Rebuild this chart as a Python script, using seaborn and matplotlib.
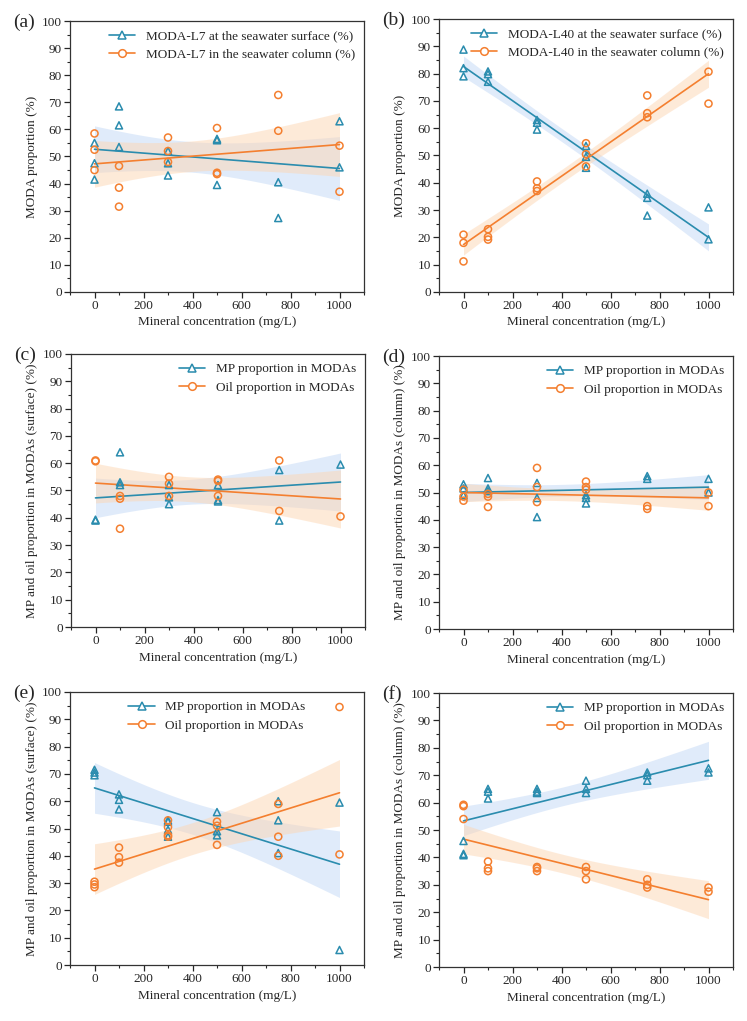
import numpy as np
import seaborn as sns
import matplotlib.pyplot as plt
from matplotlib.lines import Line2D
from matplotlib.ticker import MultipleLocator

# ---- data (mineral concentration in mg/L) ----
a_x = [0, 0, 0, 100, 100, 100, 300, 300, 300, 500, 500, 500, 750, 750, 1000, 1000]
a_surface = [55, 47.5, 41.5, 68.5, 61.5, 53.5, 52, 47.5, 43, 56.5, 56, 39.5, 40.5, 27.3, 63, 46]
a_column = [45, 52.5, 58.5, 31.5, 38.5, 46.5, 48, 52, 57, 43.5, 44, 60.5, 59.5, 72.7, 37, 54]

b_x = [0, 0, 0, 100, 100, 100, 300, 300, 300, 500, 500, 500, 750, 750, 750, 1000, 1000]
b_surface = [88.8, 82, 79, 80.8, 79.8, 77, 63, 62, 59.5, 53.5, 49.5, 45.5, 36, 34.5, 28, 31, 19.3]
b_column = [11.2, 18, 21, 19.2, 20.2, 23, 37, 38, 40.5, 46, 50.5, 54.5, 64, 65.5, 72, 69, 80.7]

c_x = [0, 0, 100, 100, 100, 300, 300, 300, 500, 500, 500, 750, 750, 1000]
c_mp = [39, 39.3, 64, 53, 52, 52, 47.5, 45, 52, 46.5, 46, 57.5, 39, 59.5]
c_oil = [61, 60.7, 36, 47, 48, 48, 52.5, 55, 48, 53.5, 54, 42.5, 61, 40.5]

d_x = [0, 0, 0, 100, 100, 100, 300, 300, 300, 500, 500, 500, 750, 750, 1000, 1000]
d_mp = [53, 51.5, 49, 55.3, 51.5, 50.5, 53.5, 48, 41, 49, 48, 46, 56, 55, 55, 50]
d_oil = [47, 48.5, 51, 44.7, 48.5, 49.5, 46.5, 52, 59, 51, 52, 54, 44, 45, 45, 50]

e_x = [0, 0, 0, 100, 100, 100, 300, 300, 300, 300, 500, 500, 500, 750, 750, 750, 1000, 1000]
e_mp = [71.5, 70.5, 69.5, 62.5, 60.5, 57, 53, 52.5, 49.5, 47, 56, 49, 47.5, 60, 53, 41, 59.5, 5.5]
e_oil = [28.5, 29.5, 30.5, 37.5, 39.5, 43, 47, 47.5, 50.5, 53, 44, 51, 52.5, 40, 47, 59, 40.5, 94.5]

f_x = [0, 0, 0, 100, 100, 100, 300, 300, 300, 500, 500, 500, 750, 750, 750, 1000, 1000]
f_mp = [46, 41.3, 40.8, 65, 64, 61.5, 65, 64, 63.5, 68, 65, 63.5, 71, 70, 68, 72.5, 71]
f_oil = [54, 58.7, 59.2, 35, 36, 38.5, 35, 36, 36.5, 32, 35, 36.5, 29, 30, 32, 27.5, 29]

# two-sided 95% t quantiles by degrees of freedom (no scipy available)
T975 = {10: 2.228, 11: 2.201, 12: 2.179, 13: 2.160, 14: 2.145, 15: 2.131,
        16: 2.120, 17: 2.110, 18: 2.101}

# ---- style ----
sns.set_style("ticks")
plt.rcParams['font.family'] = ['Liberation Serif', 'DejaVu Serif']
plt.rcParams['font.size'] = 9.5

BLUE = '#2a8cae'
ORANGE = '#f47f2f'
BLUE_BAND = '#c2d8f6'
ORANGE_BAND = '#fdd6b3'

W, H = 747, 1021
fig = plt.figure(figsize=(W / 100, H / 100), dpi=100)


def add_axes(left, top, right, bottom):
    return fig.add_axes([left / W, 1 - bottom / H, (right - left) / W, (bottom - top) / H])


def draw_series(ax, x, y, color, band, marker):
    x = np.array(x, dtype=float)
    y = np.array(y, dtype=float)
    # fitted line through seaborn, analytic 95% confidence band of the fit
    sns.regplot(x=x, y=y, ax=ax, scatter=False, ci=None, color=color,
                line_kws={'lw': 1.2, 'zorder': 3})
    n = len(x)
    slope, icpt = np.polyfit(x, y, 1)
    resid = y - (slope * x + icpt)
    s = np.sqrt(np.sum(resid ** 2) / (n - 2))
    grid = np.linspace(x.min(), x.max(), 100)
    se = s * np.sqrt(1 / n + (grid - x.mean()) ** 2 / np.sum((x - x.mean()) ** 2))
    fit = slope * grid + icpt
    t = T975[n - 2]
    ax.fill_between(grid, fit - t * se, fit + t * se, color=band, alpha=0.5,
                    lw=0, zorder=1)
    ax.scatter(x, y, marker=marker, s=26, facecolors='none', edgecolors=color,
               linewidths=1.1, zorder=4)


def style_axes(ax, ylabel):
    ax.set_xlim(-100, 1100)
    ax.set_ylim(0, 100)
    ax.xaxis.set_major_locator(MultipleLocator(200))
    ax.xaxis.set_minor_locator(MultipleLocator(100))
    ax.yaxis.set_major_locator(MultipleLocator(10))
    ax.yaxis.set_minor_locator(MultipleLocator(5))
    ax.tick_params(which='major', direction='out', length=4, width=0.9, labelsize=9.5, pad=2)
    ax.tick_params(which='minor', direction='out', length=2.2, width=0.8)
    for sp in ax.spines.values():
        sp.set_visible(True)
        sp.set_linewidth(0.9)
        sp.set_color('#333333')
    ax.set_xlabel('Mineral concentration (mg/L)', fontsize=9.5, labelpad=3)
    ax.set_ylabel(ylabel, fontsize=9.5, labelpad=3)


def add_legend(ax, labels, loc='upper right', bbox=None):
    handles = [
        Line2D([0], [0], color=BLUE, lw=1.2, marker='^', markersize=5.5,
               markerfacecolor='white', markeredgecolor=BLUE, markeredgewidth=1.1),
        Line2D([0], [0], color=ORANGE, lw=1.2, marker='o', markersize=5.5,
               markerfacecolor='white', markeredgecolor=ORANGE, markeredgewidth=1.1),
    ]
    kw = dict(loc=loc, frameon=False, fontsize=9.5, handlelength=2.0,
              handletextpad=0.8, labelspacing=0.45, borderaxespad=0.3)
    if bbox is not None:
        kw['bbox_to_anchor'] = bbox
    ax.legend(handles, labels, **kw)


panels = [
    ('(a)', (70, 21, 364, 292), a_x, a_surface, a_column, 'MODA proportion (%)',
     ['MODA-L7 at the seawater surface (%)', 'MODA-L7 in the seawater column (%)'], 'upper right', None),
    ('(b)', (439, 19, 733, 292), b_x, b_surface, b_column, 'MODA proportion (%)',
     ['MODA-L40 at the seawater surface (%)', 'MODA-L40 in the seawater column (%)'], 'upper right', None),
    ('(c)', (71, 354, 365, 627), c_x, c_mp, c_oil, 'MP and oil proportion in MODAs (surface) (%)',
     ['MP proportion in MODAs', 'Oil proportion in MODAs'], 'upper right', None),
    ('(d)', (439, 356, 733, 629), d_x, d_mp, d_oil, 'MP and oil proportion in MODAs (column) (%)',
     ['MP proportion in MODAs', 'Oil proportion in MODAs'], 'upper right', None),
    ('(e)', (70, 692, 364, 965), e_x, e_mp, e_oil, 'MP and oil proportion in MODAs (surface) (%)',
     ['MP proportion in MODAs', 'Oil proportion in MODAs'], 'upper center', (0.5, 1.0)),
    ('(f)', (439, 693, 733, 967), f_x, f_mp, f_oil, 'MP and oil proportion in MODAs (column) (%)',
     ['MP proportion in MODAs', 'Oil proportion in MODAs'], 'upper right', None),
]

for tag, box, x, y1, y2, ylabel, labels, loc, bbox in panels:
    ax = add_axes(*box)
    draw_series(ax, x, y1, BLUE, BLUE_BAND, '^')
    draw_series(ax, x, y2, ORANGE, ORANGE_BAND, 'o')
    style_axes(ax, ylabel)
    add_legend(ax, labels, loc, bbox)
    fig.text((box[0] - 57) / W, 1 - (box[1] + 1) / H, tag, fontsize=14,
             ha='left', va='center')

fig.savefig('out.png', dpi=100)
